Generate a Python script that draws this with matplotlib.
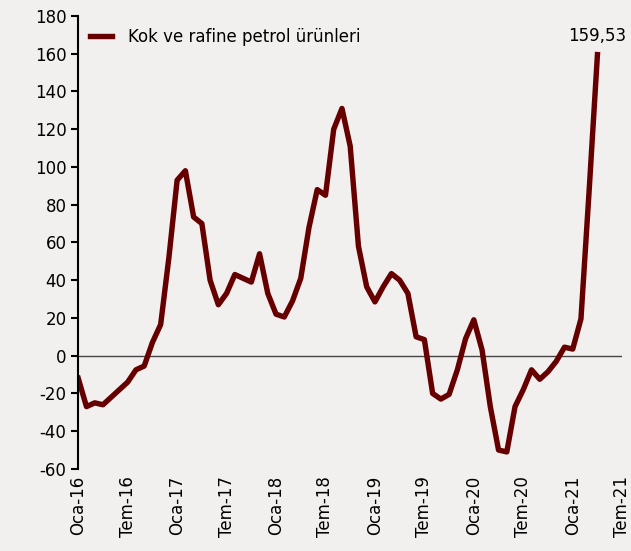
import numpy as np
import matplotlib.pyplot as plt

# Aylik veriler (Ocak 2016 - Nisan 2021)
degerler = [
    -12, -27, -25, -26, -22, -18, -14, -7.5, -5.5, 7, 16.5, 52,      # 2016
    93, 98, 73.5, 70, 40, 27, 33, 43, 41, 39, 54, 33,                # 2017
    22, 20.5, 29, 41, 68, 88, 85, 120, 131, 111, 58, 36.5,           # 2018
    28.5, 36.5, 43.5, 40, 33, 10, 8.5, -20, -23, -20.5, -7.5, 9,     # 2019
    19, 3, -27, -50, -51, -27, -18, -7.5, -12.5, -8.5, -3, 4.5,      # 2020
    3.5, 19.5, 88, 159.53,                                           # 2021
]
etiketler = ['Oca-16', 'Tem-16', 'Oca-17', 'Tem-17', 'Oca-18', 'Tem-18',
             'Oca-19', 'Tem-19', 'Oca-20', 'Tem-20', 'Oca-21', 'Tem-21']
seri_adi = 'Kok ve rafine petrol ürünleri'

x = np.arange(len(degerler))
bg = '#f2f0ee'
renk = '#660000'

plt.rcParams['font.family'] = ['DejaVu Sans']
plt.rcParams['axes.unicode_minus'] = False
fig = plt.figure(figsize=(6.31, 5.51), dpi=100, facecolor=bg)
ax = fig.add_axes([0.124, 0.149, 0.862, 0.822])
ax.set_facecolor(bg)

ax.axhline(0, color='#444444', lw=1.0, zorder=1)
ax.plot(x, degerler, color=renk, lw=3.9, label=seri_adi, zorder=2,
        solid_joinstyle='round')

# Son deger etiketi
ax.annotate('159,53', xy=(x[-1], degerler[-1]), xytext=(0, 7),
            textcoords='offset points', ha='center', va='bottom', fontsize=12)

ax.set_xlim(0, 66)
ax.set_ylim(-60, 180)
ax.set_yticks(np.arange(-60, 181, 20))
ax.set_xticks(np.arange(0, 67, 6))
ax.set_xticklabels(etiketler, rotation=90, fontsize=12)
ax.tick_params(axis='y', labelsize=12, length=5, width=1.5, direction='out')
ax.tick_params(axis='x', length=0, pad=5)

for s in ['top', 'right', 'bottom']:
    ax.spines[s].set_visible(False)
ax.spines['left'].set_linewidth(1.5)

ax.legend(loc='upper left', frameon=False, fontsize=12, handlelength=1.3,
          handletextpad=1.0, bbox_to_anchor=(0.0, 1.0), borderaxespad=0.3)

plt.savefig('out.png', dpi=100, facecolor=bg)
